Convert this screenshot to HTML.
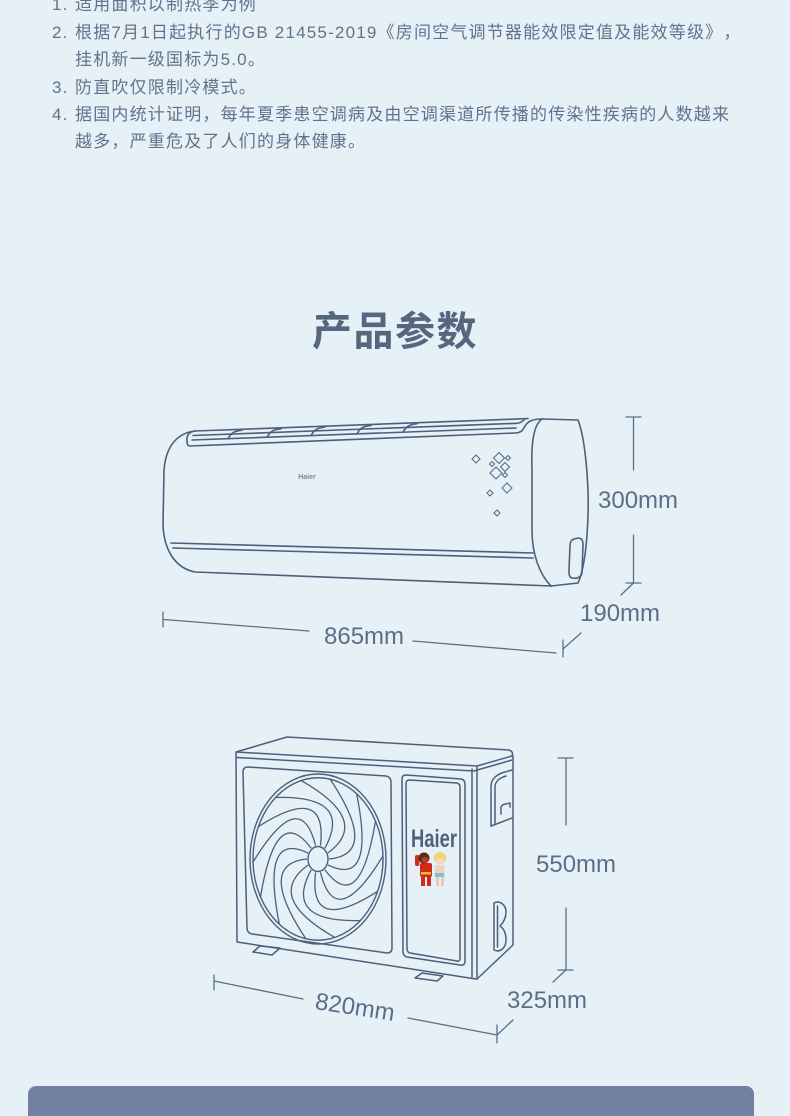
<!DOCTYPE html>
<html>
<head>
<meta charset="utf-8">
<style>
  html,body{margin:0;padding:0;}
  body{width:790px;height:1097px;background:#e5f1f7;position:relative;overflow:hidden;}
  .t{position:absolute;font-family:"Liberation Sans","Noto Sans CJK SC",sans-serif;font-size:17px;line-height:20px;color:#62728d;letter-spacing:1.2px;white-space:nowrap;text-spacing-trim:space-all;}
  .title{position:absolute;left:0;width:790px;top:311px;text-align:center;font-family:"Liberation Sans","Noto Sans CJK SC",sans-serif;font-size:40px;line-height:42px;font-weight:bold;color:#56667f;letter-spacing:1.5px;}
  .bar{position:absolute;left:28px;top:1086px;width:726px;height:30px;background:#7280a2;border-radius:8px 8px 0 0;}
  svg{position:absolute;left:0;top:0;}
</style>
</head>
<body>
<div class="t" style="left:52px;top:-5px">1.</div><div class="t" style="left:75px;top:-5px">适用面积以制热季为例</div>
<div class="t" style="left:52px;top:23px">2.</div><div class="t" style="left:75px;top:23px">根据7月1日起执行的GB 21455-2019《房间空气调节器能效限定值及能效等级》，</div>
<div class="t" style="left:75px;top:50px">挂机新一级国标为5.0。</div>
<div class="t" style="left:52px;top:78px">3.</div><div class="t" style="left:75px;top:78px">防直吹仅限制冷模式。</div>
<div class="t" style="left:52px;top:105px">4.</div><div class="t" style="left:75px;top:105px">据国内统计证明，每年夏季患空调病及由空调渠道所传播的传染性疾病的人数越来</div>
<div class="t" style="left:75px;top:132px">越多，严重危及了人们的身体健康。</div>

<div class="title">产品参数</div>

<svg width="790" height="1097" viewBox="0 0 790 1097" xmlns="http://www.w3.org/2000/svg">
  <defs>
    <path id="blade" d="M 11,0 Q 62,-4 12,-64" fill="none" stroke="#4e5e7c" stroke-width="1.3" vector-effect="non-scaling-stroke"/>
  </defs>
  <g fill="none" stroke="#4e5e7c" stroke-width="1.6" stroke-linecap="round" stroke-linejoin="round">
    <path d="M 195,431 C 178,433 166,445 164,470 L 163,525 C 164,550 175,568 195,572 L 551,586"/>
    <path d="M 195,431 L 528,418.6"/>
    <path d="M 193,435.5 L 517,423.3 C 521,423 522,421.5 524,420"/>
    <path d="M 192,440 L 516,428"/>
    <path d="M 195,431 C 189,432 187,435 187,439 C 187,443 187,446 190,446 L 515,433 C 521,433 523,430 525,426 C 528,421 533,419 542,419"/>
    <path d="M 228,438.8 C 231,433 234,431 242,430.2"/>
    <path d="M 267,437.3 C 270,431.5 273,429.5 281,428.8"/>
    <path d="M 311,435.6 C 314,430 317,428 325,427.1"/>
    <path d="M 357,433.9 C 360,428 363,426.3 371,425.4"/>
    <path d="M 403,432.2 C 406,426.5 409,424.6 417,423.7"/>
    <path d="M 542,419 L 578,420 C 586,440 589,490 588,515 C 587,545 584,570 578,583 L 551,586"/>
    <path d="M 542,419 C 533,425 531,445 532,470 L 532,530 C 532,555 540,575 551,586"/>
    <path d="M 574,539 C 580,537 583,538 583,545 L 582,572 C 582,577 577,579 572,578 C 569,577 569,574 569,570 L 570,546 C 570,542 571,540 574,539 Z"/>
    <path d="M 171,543 L 533,553"/>
    <path d="M 173,548 L 533,558"/>
  </g>
  <g fill="none" stroke="#5a6a88" stroke-width="1.1">
    <path d="M 476,455 L 480,459 L 476,463 L 472,459 Z"/>
    <path d="M 499,452.5 L 504.5,458 L 499,463.5 L 493.5,458 Z"/>
    <path d="M 508,455.5 L 510.5,458 L 508,460.5 L 505.5,458 Z"/>
    <path d="M 492,461.5 L 494.5,464 L 492,466.5 L 489.5,464 Z"/>
    <path d="M 505,462.5 L 509.5,467 L 505,471.5 L 500.5,467 Z"/>
    <path d="M 496,467 L 502,473 L 496,479 L 490,473 Z"/>
    <path d="M 505,472.5 L 507.5,475 L 505,477.5 L 502.5,475 Z"/>
    <path d="M 507,483 L 512,488 L 507,493 L 502,488 Z"/>
    <path d="M 490,490 L 493,493 L 490,496 L 487,493 Z"/>
    <path d="M 497,510 L 500,513 L 497,516 L 494,513 Z"/>
  </g>
  <text x="307" y="479" font-family="Liberation Sans, sans-serif" font-size="7" font-weight="bold" fill="#7a8598" text-anchor="middle">Haier</text>

  <g fill="none" stroke="#5d6d88" stroke-width="1.3" stroke-linecap="round">
    <path d="M 626,417 L 641,417 M 633.5,417 L 633.5,470 M 633.5,535 L 633.5,583 M 626,583 L 641,583 M 633.5,583 L 621,595"/>
    <path d="M 581,633 L 563,649"/>
    <path d="M 163,612 L 163,627 M 164,619.5 L 309,631"/>
    <path d="M 413,641 L 556,653 M 563,640 L 563,657"/>
  </g>
  <g font-family="Liberation Sans, sans-serif" font-size="24" fill="#5d6d88">
    <text x="598" y="508">300mm</text>
    <text x="580" y="621">190mm</text>
    <text x="324" y="644">865mm</text>
    <text x="536" y="872">550mm</text>
    <text x="507" y="1008">325mm</text>
    <text x="355" y="1015" text-anchor="middle" transform="rotate(8.7 355 1007)">820mm</text>
  </g>

  <g fill="none" stroke="#4e5e7c" stroke-width="1.5" stroke-linecap="round" stroke-linejoin="round">
    <path d="M 236,752 L 287,737 L 509,750 Q 514,752 512,756 L 477,766 L 236,752 Z"/>
    <path d="M 237,757.5 L 474,771 L 512,760"/>
    <path d="M 236,752 L 237,942 L 476,979"/>
    <path d="M 472,769 L 472,977"/>
    <path d="M 477,766 L 477,979"/>
    <path d="M 513,756 L 513,945 L 477,979"/>
    <path d="M 248,767 L 386,776 Q 391,777 391,782 L 392,948 Q 392,953 387,953 L 252,934 Q 247,933 247,928 L 243,772 Q 243,767 248,767 Z"/>
    <path d="M 406,775 L 461,779 Q 465,780 465,784 L 465,961 Q 465,966 460,965 L 407,957 Q 403,956 403,952 L 402,779 Q 402,775 406,775 Z"/>
    <path d="M 409.5,780 L 457,783 Q 460,784 460,787 L 460,958 Q 460,962 457,961 L 410,953 Q 407,952 407,949 L 406,783.5 Q 406,780 409.5,780 Z"/>
    <path d="M 491,826 L 491,786 C 491,779 497,774 505,772 L 512,770"/>
    <path d="M 491,826 L 512,818"/>
    <path d="M 495,823 L 495,787 C 495,782 499,778 506,776"/>
    <path d="M 501,814 L 501,808 C 501,805 504,804 506,804 L 510,803 L 510,807"/>
    <path d="M 494,903 L 494,950 C 500,953 506,948 506,940 C 506,932 503,928 500,926 C 503,923 506,918 506,912 C 506,905 500,900 494,903 Z"/>
    <path d="M 497.5,906 L 497.5,947"/>
    <path d="M 253,952 L 260,946 L 280,948 L 272,955 Z"/>
    <path d="M 415,978 L 422,973 L 443,976 L 437,981 Z"/>
  </g>
  <g transform="translate(318,859) scale(1,1.25)" fill="none" stroke="#4e5e7c" stroke-width="1.4">
    <circle r="68" vector-effect="non-scaling-stroke"/>
    <circle r="65" vector-effect="non-scaling-stroke"/>
    <circle r="10" vector-effect="non-scaling-stroke"/>
    <use href="#blade" transform="rotate(0)"/>
    <use href="#blade" transform="rotate(25.7)"/>
    <use href="#blade" transform="rotate(51.4)"/>
    <use href="#blade" transform="rotate(77.1)"/>
    <use href="#blade" transform="rotate(102.8)"/>
    <use href="#blade" transform="rotate(128.5)"/>
    <use href="#blade" transform="rotate(154.2)"/>
    <use href="#blade" transform="rotate(180)"/>
    <use href="#blade" transform="rotate(205.7)"/>
    <use href="#blade" transform="rotate(231.4)"/>
    <use href="#blade" transform="rotate(257.1)"/>
    <use href="#blade" transform="rotate(282.8)"/>
    <use href="#blade" transform="rotate(308.5)"/>
    <use href="#blade" transform="rotate(334.2)"/>
  </g>
  <text x="434" y="847" font-family="Liberation Sans, sans-serif" font-size="25" font-weight="bold" fill="#4e5f80" text-anchor="middle" textLength="46" lengthAdjust="spacingAndGlyphs">Haier</text>
  <g>
    <rect x="421" y="876" width="4" height="10" fill="#d42a1e"/>
    <rect x="427" y="876" width="4" height="10" fill="#d42a1e"/>
    <rect x="420" y="863" width="12" height="14" rx="2" fill="#d42a1e"/>
    <rect x="421" y="872" width="10" height="2.5" fill="#f1c232"/>
    <rect x="415" y="855" width="4.5" height="11" rx="2" fill="#d42a1e"/>
    <circle cx="424" cy="858" r="5.5" fill="#5a2a1a"/>
    <ellipse cx="425" cy="860" rx="3.5" ry="3" fill="#c0392b"/>
    <rect x="436" y="877" width="3" height="9" fill="#f0c8b8"/>
    <rect x="441" y="877" width="3" height="9" fill="#f0c8b8"/>
    <rect x="434.5" y="865" width="10" height="12" rx="2" fill="#f3cfc0"/>
    <rect x="435" y="873" width="9" height="4" fill="#6fc7d6"/>
    <circle cx="440" cy="858" r="6" fill="#f3d36b"/>
    <ellipse cx="440" cy="861" rx="4" ry="3.5" fill="#f6d7c0"/>
  </g>

  <g fill="none" stroke="#5d6d88" stroke-width="1.3" stroke-linecap="round">
    <path d="M 558,758 L 573,758 M 566,758 L 566,825 M 566,908 L 566,970 M 558,970 L 573,970 M 566,970 L 553,982"/>
    <path d="M 214,975 L 214,990 M 214,981 L 303,999"/>
    <path d="M 408,1018 L 497,1035 M 497,1025 L 497,1043 M 513,1020 L 497,1035"/>
  </g>
</svg>

<div class="bar"></div>
</body>
</html>
